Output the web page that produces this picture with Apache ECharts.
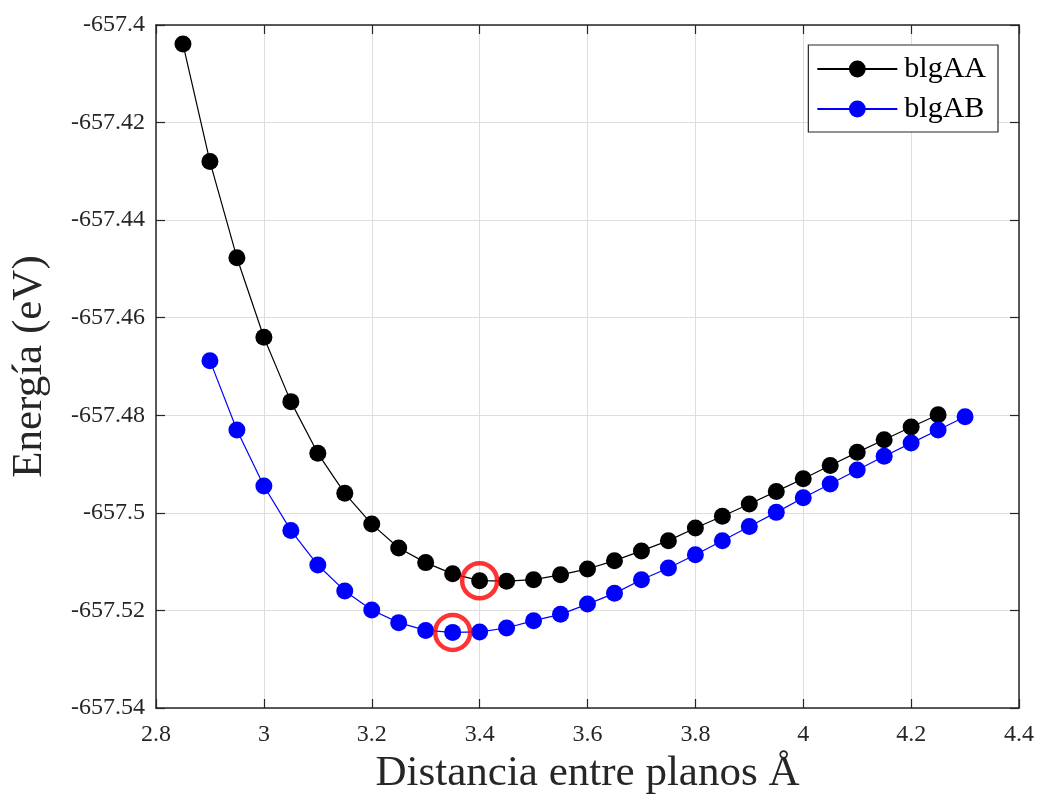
<!DOCTYPE html>
<html>
<head>
<meta charset="utf-8">
<script src="https://cdn.jsdelivr.net/npm/echarts@6/dist/echarts.min.js"></script>
<style>
  html, body { margin: 0; padding: 0; background: #fff; }
  #chart { width: 1040px; height: 795px; }
</style>
</head>
<body>
<div id="chart"></div>
<script>
// distances (Å)
const distAA = [2.85, 2.9, 2.95, 3.0, 3.05, 3.1, 3.15, 3.2, 3.25, 3.3, 3.35, 3.4, 3.45, 3.5, 3.55,
    3.6, 3.65, 3.7, 3.75, 3.8, 3.85, 3.9, 3.95, 4.0, 4.05, 4.1, 4.15, 4.2, 4.25];
const energyAA = [-657.4039, -657.4280, -657.4477, -657.4640, -657.4772, -657.4878, -657.4960,
    -657.5023, -657.5072, -657.5102, -657.5125, -657.5139, -657.5140, -657.5137, -657.5127,
    -657.5115, -657.5098, -657.5078, -657.5057, -657.5031, -657.5007, -657.4982, -657.4956,
    -657.4930, -657.4903, -657.4876, -657.4850, -657.4824, -657.4799];

const distAB = [2.9, 2.95, 3.0, 3.05, 3.1, 3.15, 3.2, 3.25, 3.3, 3.35, 3.4, 3.45, 3.5, 3.55, 3.6,
    3.65, 3.7, 3.75, 3.8, 3.85, 3.9, 3.95, 4.0, 4.05, 4.1, 4.15, 4.2, 4.25, 4.3];
const energyAB = [-657.4688, -657.4830, -657.4945, -657.5036, -657.5107, -657.5160, -657.5199,
    -657.5225, -657.5241, -657.5245, -657.5244, -657.5236, -657.5221, -657.5208, -657.5187,
    -657.5165, -657.5137, -657.5113, -657.5086, -657.5057, -657.5028, -657.4999, -657.4969,
    -657.4941, -657.4912, -657.4884, -657.4857, -657.4830, -657.4803];

// index of the marked minimum of each curve
const minIdxAA = 11;
const minIdxAB = 9;

const xTicks = [2.8, 3, 3.2, 3.4, 3.6, 3.8, 4, 4.2, 4.4];
const yTicks = [-657.54, -657.52, -657.5, -657.48, -657.46, -657.44, -657.42, -657.4];

const serif = '"Liberation Serif", "DejaVu Serif", serif';
const axisColor = '#262626';

const zip = (xs, ys) => xs.map((x, i) => [x, ys[i]]);

const chart = echarts.init(document.getElementById('chart'));

const xBase = {
    type: 'value',
    min: xTicks[0],
    max: xTicks[xTicks.length - 1],
    interval: 0.2,
    axisLine: { onZero: false, lineStyle: { color: axisColor, width: 1.5 } },
    axisTick: { inside: true, length: 9, lineStyle: { color: axisColor, width: 1.2 } }
};
const yBase = {
    type: 'value',
    min: yTicks[0],
    max: yTicks[yTicks.length - 1],
    interval: 0.02,
    axisLine: { onZero: false, lineStyle: { color: axisColor, width: 1.5 } },
    axisTick: { inside: true, length: 9, lineStyle: { color: axisColor, width: 1.2 } }
};

const option = {
    backgroundColor: '#fff',
    animation: false,
    grid: { left: 156, right: 21, top: 25, bottom: 87, containLabel: false, outerBoundsMode: 'none' },
    legend: {
        right: 42,
        top: 45,
        orient: 'vertical',
        backgroundColor: '#fff',
        borderColor: axisColor,
        borderWidth: 1.2,
        borderRadius: 0,
        padding: [9, 12, 8, 8],
        itemWidth: 80,
        itemHeight: 21,
        itemGap: 10,
        textStyle: { fontFamily: serif, fontSize: 30, color: '#000', padding: [0, 0, 0, 2] },
        data: ['blgAA', 'blgAB']
    },
    xAxis: [
        Object.assign({}, xBase, {
            position: 'bottom',
            name: 'Distancia entre planos Å',
            nameLocation: 'middle',
            nameGap: 43,
            nameTextStyle: { fontFamily: serif, fontSize: 43, color: '#262626' },
            axisLabel: {
                margin: 15,
                fontFamily: serif, fontSize: 24, color: '#262626',
                formatter: v => String(parseFloat(v.toFixed(2)))
            },
            splitLine: { show: true, lineStyle: { color: '#dedede', width: 1 } }
        }),
        Object.assign({}, xBase, {
            position: 'top',
            axisLabel: { show: false },
            splitLine: { show: false }
        })
    ],
    yAxis: [
        Object.assign({}, yBase, {
            position: 'left',
            name: 'Energía (eV)',
            nameLocation: 'middle',
            nameGap: 105,
            nameTextStyle: { fontFamily: serif, fontSize: 43, color: '#262626' },
            axisLabel: {
                margin: 11,
                fontFamily: serif, fontSize: 24, color: '#262626',
                formatter: v => String(parseFloat(v.toFixed(2)))
            },
            splitLine: { show: true, lineStyle: { color: '#dedede', width: 1 } }
        }),
        Object.assign({}, yBase, {
            position: 'right',
            axisLabel: { show: false },
            splitLine: { show: false }
        })
    ],
    series: [
        {
            name: 'blgAA',
            type: 'line',
            data: zip(distAA, energyAA),
            symbol: 'circle',
            symbolSize: 17,
            itemStyle: { color: '#000' },
            lineStyle: { color: '#000', width: 1.2 },
            z: 3
        },
        {
            name: 'blgAB',
            type: 'line',
            data: zip(distAB, energyAB),
            symbol: 'circle',
            symbolSize: 17,
            itemStyle: { color: '#0000ff' },
            lineStyle: { color: '#0000ff', width: 1.2 },
            z: 3
        },
        {
            name: 'minimos',
            type: 'scatter',
            data: [
                [distAA[minIdxAA], energyAA[minIdxAA]],
                [distAB[minIdxAB], energyAB[minIdxAB]]
            ],
            symbol: 'circle',
            symbolSize: 35,
            itemStyle: { color: 'rgba(0,0,0,0)', borderColor: '#ff0000', borderWidth: 4.5 },
            z: 5,
            silent: true
        }
    ]
};

chart.setOption(option);
</script>
</body>
</html>
